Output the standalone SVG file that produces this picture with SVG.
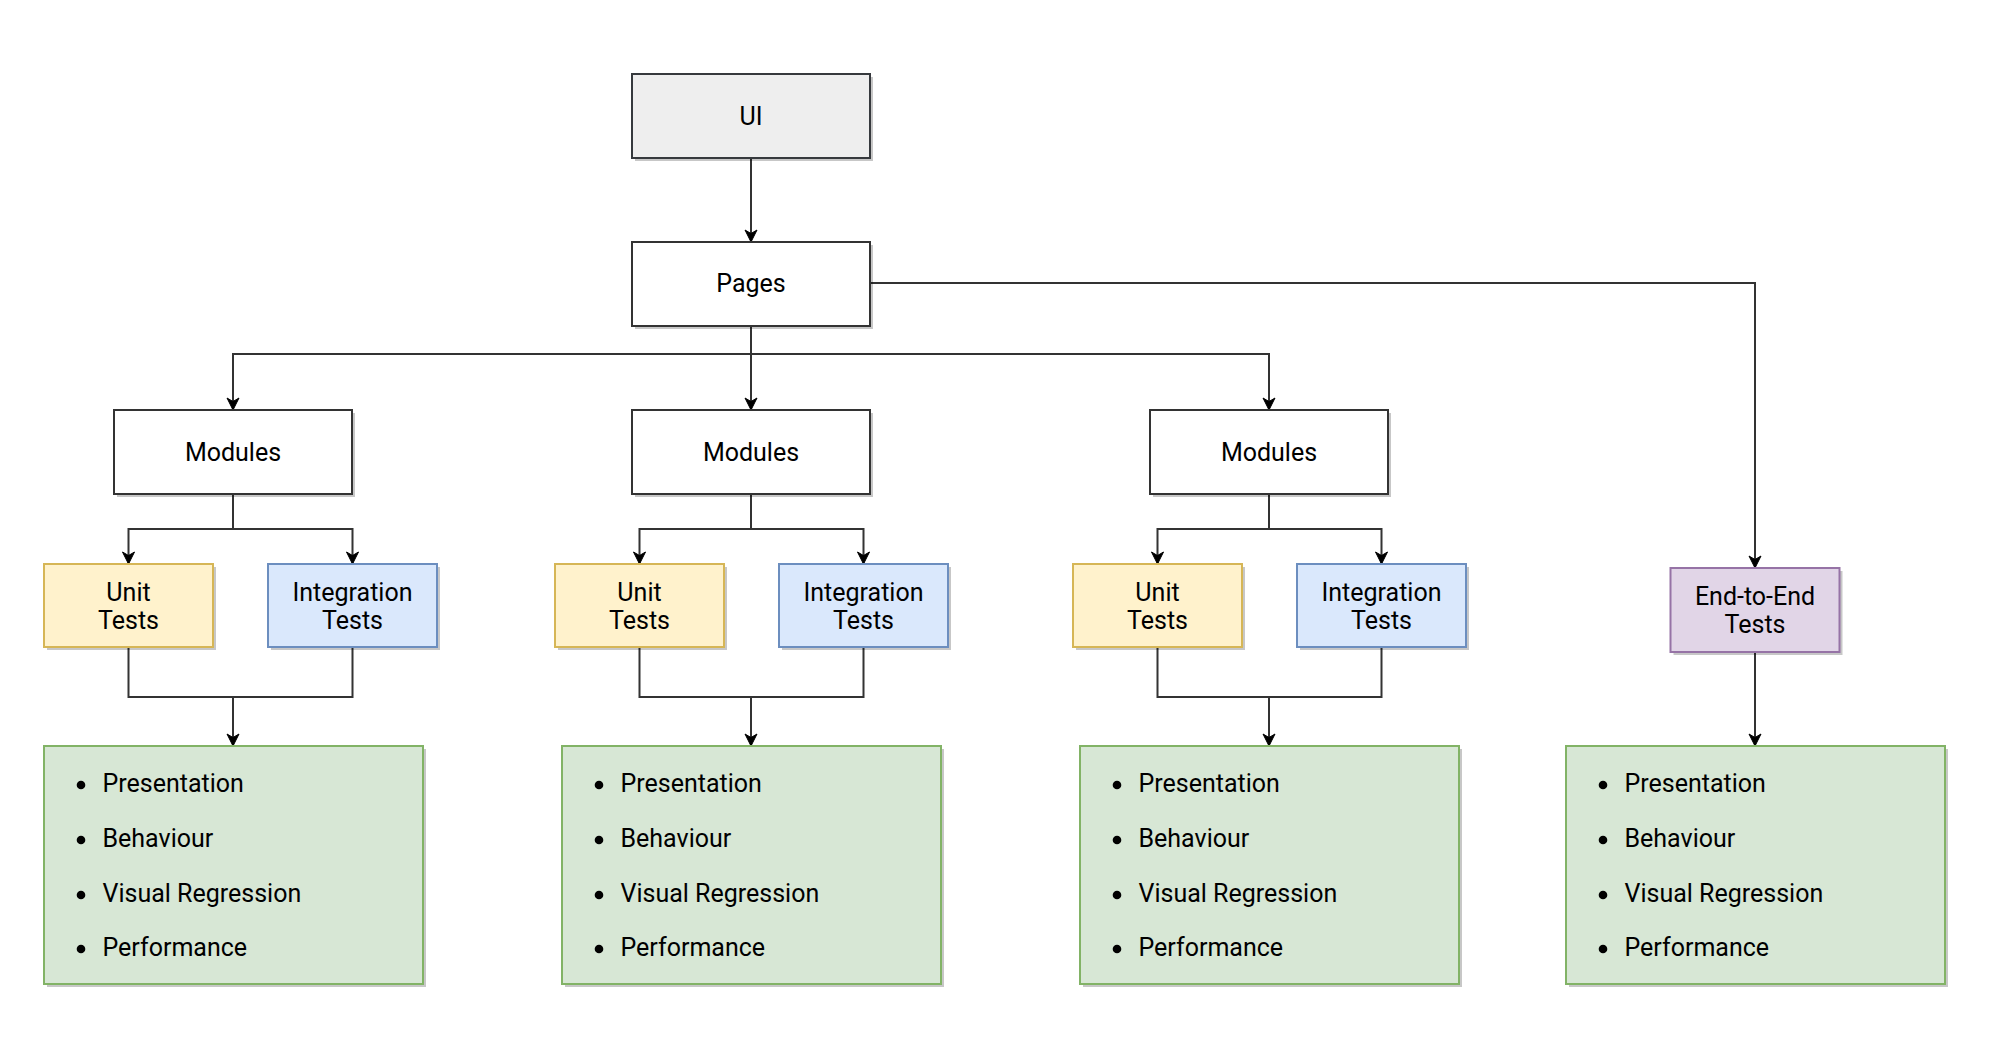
<svg xmlns="http://www.w3.org/2000/svg" width="1998" height="1062" viewBox="0 0 1998 1062">
<style>
  .sh { fill: #000000; fill-opacity: 0.22; stroke: none; }
  .box { stroke-width: 2; }
  .ui { fill: #eeeeee; stroke: #36393d; }
  .plain { fill: #ffffff; stroke: #333333; }
  .unit { fill: #fff2cc; stroke: #d6b656; }
  .integ { fill: #dae8fc; stroke: #6c8ebf; }
  .e2e { fill: #e1d5e7; stroke: #9673a6; }
  .green { fill: #d7e7d5; stroke: #82b366; }
  .t { font-family: Roboto, "Liberation Sans", sans-serif; font-size: 25px; fill: #000000; text-anchor: middle; }
  .li { font-family: Roboto, "Liberation Sans", sans-serif; font-size: 25px; fill: #000000; }
  .dot { fill: #000000; }
  .edge { fill: none; stroke: #333333; stroke-width: 2; }
  .arr { marker-end: url(#arrow); }
</style>
<defs>
  <marker id="arrow" viewBox="0 0 14 14" refX="13" refY="7" markerWidth="14" markerHeight="14" markerUnits="userSpaceOnUse" orient="auto">
    <path d="M1,1 L13,7 L1,13 L4.5,7 Z" fill="#000000" stroke="#000000" stroke-width="1" stroke-linejoin="miter"/>
  </marker>
  <g id="bullets">
    <circle class="dot" cx="37" cy="46" r="4.3"/>
    <circle class="dot" cx="37" cy="101" r="4.3"/>
    <circle class="dot" cx="37" cy="156" r="4.3"/>
    <circle class="dot" cx="37" cy="210" r="4.3"/>
    <text class="li" x="58.5" y="53">Presentation</text>
    <text class="li" x="58.5" y="108">Behaviour</text>
    <text class="li" x="58.5" y="163">Visual Regression</text>
    <text class="li" x="58.5" y="217">Performance</text>
  </g>
</defs>
<rect width="1998" height="1062" fill="#ffffff"/>

<g id="connectors">
  <path class="edge arr" d="M751,158 V242"/>
  <path class="edge arr" d="M751,326 V354 H233 V410"/>
  <path class="edge arr" d="M751,326 V410"/>
  <path class="edge arr" d="M751,354 H1269 V410"/>
  <path class="edge arr" d="M870,283 H1755 V568"/>

  <path class="edge arr" d="M233,494 V529 H128.5 V564"/>
  <path class="edge arr" d="M233,529 H352.5 V564"/>
  <path class="edge arr" d="M751,494 V529 H639.5 V564"/>
  <path class="edge arr" d="M751,529 H863.5 V564"/>
  <path class="edge arr" d="M1269,494 V529 H1157.5 V564"/>
  <path class="edge arr" d="M1269,529 H1381.5 V564"/>

  <path class="edge arr" d="M128.5,647 V697 H233 V746"/>
  <path class="edge" d="M352.5,647 V697 H233"/>
  <path class="edge arr" d="M639.5,647 V697 H751 V746"/>
  <path class="edge" d="M863.5,647 V697 H751"/>
  <path class="edge arr" d="M1157.5,647 V697 H1269 V746"/>
  <path class="edge" d="M1381.5,647 V697 H1269"/>
  <path class="edge arr" d="M1755,652 V746"/>
</g>

<g id="ui">
  <rect class="sh" x="635" y="77" width="238" height="84"/>
  <rect class="box ui" x="632" y="74" width="238" height="84"/>
  <text class="t" x="751" y="125">UI</text>
</g>
<g id="pages">
  <rect class="sh" x="635" y="245" width="238" height="84"/>
  <rect class="box plain" x="632" y="242" width="238" height="84"/>
  <text class="t" x="751" y="292">Pages</text>
</g>

<g id="modules-1">
  <rect class="sh" x="117" y="413" width="238" height="84"/>
  <rect class="box plain" x="114" y="410" width="238" height="84"/>
  <text class="t" x="233" y="461">Modules</text>
</g>
<g id="modules-2">
  <rect class="sh" x="635" y="413" width="238" height="84"/>
  <rect class="box plain" x="632" y="410" width="238" height="84"/>
  <text class="t" x="751" y="461">Modules</text>
</g>
<g id="modules-3">
  <rect class="sh" x="1153" y="413" width="238" height="84"/>
  <rect class="box plain" x="1150" y="410" width="238" height="84"/>
  <text class="t" x="1269" y="461">Modules</text>
</g>

<g id="unit-1">
  <rect class="sh" x="47" y="567" width="169" height="83"/>
  <rect class="box unit" x="44" y="564" width="169" height="83"/>
  <text class="t" x="128.5" y="601">Unit</text>
  <text class="t" x="128.5" y="629">Tests</text>
</g>
<g id="integration-1">
  <rect class="sh" x="271" y="567" width="169" height="83"/>
  <rect class="box integ" x="268" y="564" width="169" height="83"/>
  <text class="t" x="352.5" y="601">Integration</text>
  <text class="t" x="352.5" y="629">Tests</text>
</g>
<g id="unit-2">
  <rect class="sh" x="558" y="567" width="169" height="83"/>
  <rect class="box unit" x="555" y="564" width="169" height="83"/>
  <text class="t" x="639.5" y="601">Unit</text>
  <text class="t" x="639.5" y="629">Tests</text>
</g>
<g id="integration-2">
  <rect class="sh" x="782" y="567" width="169" height="83"/>
  <rect class="box integ" x="779" y="564" width="169" height="83"/>
  <text class="t" x="863.5" y="601">Integration</text>
  <text class="t" x="863.5" y="629">Tests</text>
</g>
<g id="unit-3">
  <rect class="sh" x="1076" y="567" width="169" height="83"/>
  <rect class="box unit" x="1073" y="564" width="169" height="83"/>
  <text class="t" x="1157.5" y="601">Unit</text>
  <text class="t" x="1157.5" y="629">Tests</text>
</g>
<g id="integration-3">
  <rect class="sh" x="1300" y="567" width="169" height="83"/>
  <rect class="box integ" x="1297" y="564" width="169" height="83"/>
  <text class="t" x="1381.5" y="601">Integration</text>
  <text class="t" x="1381.5" y="629">Tests</text>
</g>
<g id="e2e">
  <rect class="sh" x="1673.5" y="571" width="169" height="84"/>
  <rect class="box e2e" x="1670.5" y="568" width="169" height="84"/>
  <text class="t" x="1755" y="605">End-to-End</text>
  <text class="t" x="1755" y="633">Tests</text>
</g>

<g id="aspects-1">
  <rect class="sh" x="47" y="749" width="379" height="238"/>
  <rect class="box green" x="44" y="746" width="379" height="238"/>
  <use href="#bullets" x="44" y="739"/>
</g>
<g id="aspects-2">
  <rect class="sh" x="565" y="749" width="379" height="238"/>
  <rect class="box green" x="562" y="746" width="379" height="238"/>
  <use href="#bullets" x="562" y="739"/>
</g>
<g id="aspects-3">
  <rect class="sh" x="1083" y="749" width="379" height="238"/>
  <rect class="box green" x="1080" y="746" width="379" height="238"/>
  <use href="#bullets" x="1080" y="739"/>
</g>
<g id="aspects-4">
  <rect class="sh" x="1569" y="749" width="379" height="238"/>
  <rect class="box green" x="1566" y="746" width="379" height="238"/>
  <use href="#bullets" x="1566" y="739"/>
</g>
</svg>
